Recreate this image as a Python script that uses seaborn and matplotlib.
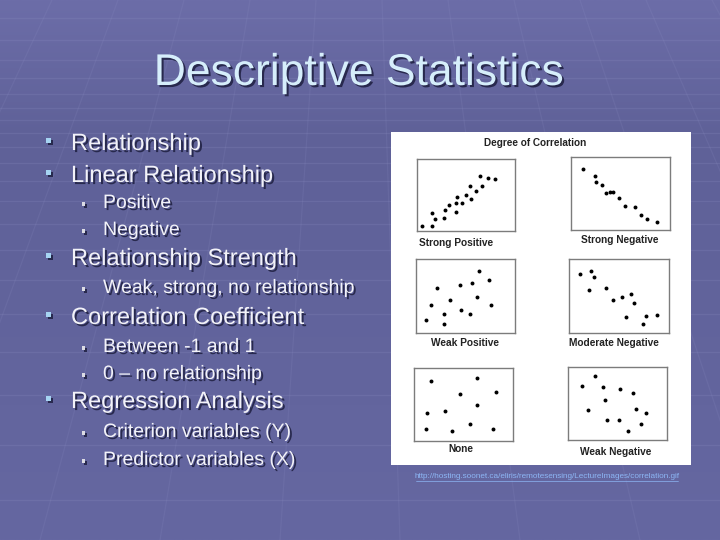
import numpy as np
import matplotlib.pyplot as plt
import matplotlib.patheffects as pe
from matplotlib.patches import Rectangle
import seaborn as sns

# --- slide text ---
title = "Descriptive Statistics"
bullets = [
    (1, "Relationship", 150),
    (1, "Linear Relationship", 182),
    (2, "Positive", 208),
    (2, "Negative", 235),
    (1, "Relationship Strength", 265),
    (2, "Weak, strong, no relationship", 293),
    (1, "Correlation Coefficient", 324),
    (2, "Between -1 and 1", 352),
    (2, "0 \u2013 no relationship", 379),
    (1, "Regression Analysis", 408),
    (2, "Criterion variables (Y)", 437),
    (2, "Predictor variables (X)", 465),
]
source_url = "http://hosting.soonet.ca/eliris/remotesensing/LectureImages/correlation.gif"

# --- scatter panels (0-10 scale) ---
strong_pos_x = [0.47, 1.51, 1.51, 1.81, 2.72, 2.85, 3.29, 3.96, 3.96, 4.06, 4.56, 4.97, 5.37, 5.54, 6.01, 6.38, 6.68, 7.21, 7.92]
strong_pos_y = [0.73, 0.73, 2.52, 1.65, 1.74, 2.89, 3.67, 2.61, 3.85, 4.72, 3.94, 4.95, 6.28, 4.45, 5.55, 7.57, 6.19, 7.43, 7.29]

strong_neg_x = [1.17, 2.38, 2.48, 3.09, 3.49, 3.95, 4.20, 4.83, 5.47, 6.48, 7.05, 7.68, 8.69]
strong_neg_y = [8.39, 7.43, 6.61, 6.10, 5.09, 5.23, 5.23, 4.36, 3.30, 3.21, 2.06, 1.47, 1.06]

weak_pos_x = [0.98, 1.52, 2.13, 2.84, 2.87, 3.41, 4.46, 4.56, 5.41, 5.68, 6.15, 6.39, 7.40, 7.60]
weak_pos_y = [1.73, 3.82, 6.05, 2.59, 1.23, 4.50, 6.55, 3.05, 2.59, 6.77, 4.91, 8.36, 7.18, 3.82]

mod_neg_x = [1.11, 2.15, 2.45, 1.95, 3.66, 4.43, 5.34, 6.24, 6.48, 5.74, 7.68, 7.38, 8.76]
mod_neg_y = [8.00, 8.41, 7.55, 5.77, 6.14, 4.41, 4.82, 5.23, 4.00, 2.18, 2.27, 1.23, 2.45]

none_x = [1.71, 6.38, 4.66, 8.26, 6.38, 1.28, 3.15, 1.24, 3.83, 5.70, 7.99]
none_y = [8.18, 8.64, 6.41, 6.73, 4.95, 3.82, 4.14, 1.59, 1.36, 2.27, 1.68]

weak_neg_x = [2.75, 1.44, 3.49, 5.30, 6.54, 3.72, 2.01, 6.91, 7.92, 3.96, 5.17, 7.35, 6.07]
weak_neg_y = [8.77, 7.41, 7.23, 7.05, 6.41, 5.50, 4.05, 4.27, 3.73, 2.73, 2.73, 2.23, 1.23]

panel_names = ["Strong Positive", "Strong Negative", "Weak Positive",
               "Moderate Negative", "None", "Weak Negative"]
panel_data = [(strong_pos_x, strong_pos_y), (strong_neg_x, strong_neg_y),
              (weak_pos_x, weak_pos_y), (mod_neg_x, mod_neg_y),
              (none_x, none_y), (weak_neg_x, weak_neg_y)]

W, H = 720, 540
sns.set_style("white")
plt.rcParams["font.family"] = ["Liberation Sans", "DejaVu Sans"]

fig = plt.figure(figsize=(7.2, 5.4), dpi=100)
bg = fig.add_axes([0, 0, 1, 1])
bg.set_xlim(0, W)
bg.set_ylim(H, 0)
bg.axis("off")

# background gradient
top = np.array([0x6c, 0x6d, 0xa8]) / 255
mid = np.array([0x5f, 0x61, 0x98]) / 255
bot = np.array([0x65, 0x67, 0xa1]) / 255
t = np.linspace(0, 1, 200)[:, None]
grad = np.where(t < 0.25, top + (mid - top) * (t / 0.25),
                mid + (bot - mid) * ((t - 0.25) / 0.75))
bg.imshow(grad[:, None, :].repeat(2, axis=1), extent=[0, W, H, 0], aspect="auto", zorder=0)

# faint perspective grid
grid_c = "#9294c8"
for yy in [18, 40, 60, 78, 94, 108, 120, 133, 147, 163, 181, 201, 224, 250, 280, 314, 352, 395, 445, 500]:
    bg.plot([0, W], [yy, yy], color=grid_c, lw=1.0, alpha=0.2, zorder=1)
vx = 360
for xb in np.arange(-560, 1300, 120):
    bg.plot([vx + (xb - vx) * 0.55, xb], [0, H], color=grid_c, lw=0.9, alpha=0.15, zorder=1)

shadow = [pe.withSimplePatchShadow(offset=(1.5, -1.5), shadow_rgbFace="#1e1f40", alpha=0.85)]

bg.text(359, 85, title, fontsize=32, color="#d6eefb", ha="center", va="baseline",
        path_effects=shadow, zorder=5)

for level, txt, base in bullets:
    if level == 1:
        bg.add_patch(Rectangle((45.5, base - 12.5), 5.5, 5.2, facecolor="#a6d4f2", edgecolor="none",
                               zorder=5, path_effects=shadow))
        bg.text(71, base, txt, fontsize=17, color="#f2f2f8", va="baseline",
                path_effects=shadow, zorder=5)
    else:
        bg.add_patch(Rectangle((81.5, base - 6.2), 3.8, 3.8, facecolor="#dcdce4", edgecolor="none",
                               zorder=5, path_effects=shadow))
        bg.text(103, base, txt, fontsize=14, color="#f2f2f8", va="baseline",
                path_effects=shadow, zorder=5)

# white picture panel
bg.add_patch(Rectangle((391, 132), 300, 333, facecolor="white", edgecolor="none", zorder=3))
bg.text(535, 143, "Degree of Correlation", fontsize=7.2, fontweight="bold", color="#222222",
        ha="center", va="center", zorder=4)

# url under the picture
bg.text(547, 477, source_url, fontsize=5.9, color="#8db6f5", ha="center", va="center", zorder=4)
bg.plot([416, 678], [480.5, 480.5], color="#8db6f5", lw=0.5, zorder=4)

# panel boxes (left, top, right, bottom in px) and label positions
boxes = [(417, 159, 515, 231), (571, 157, 670, 230),
         (416, 259, 515, 333), (569, 259, 669, 333),
         (414, 368, 513, 441), (568, 367, 667, 440)]
label_pos = [(419, 243, "left"), (620, 240, "center"),
             (465, 343, "center"), (614, 343, "center"),
             (461, 449, "center"), (616, 452, "center")]

for (xs, ys), (l, tp, r, b), (lx, ly, ha), name in zip(panel_data, boxes, label_pos, panel_names):
    ax = fig.add_axes([l / W, 1 - b / H, (r - l) / W, (b - tp) / H])
    sns.scatterplot(x=xs, y=ys, ax=ax, color="black", s=8, linewidth=0, zorder=3)
    ax.set_xlim(0, 10)
    ax.set_ylim(0, 10)
    ax.set_xticks([])
    ax.set_yticks([])
    ax.set_facecolor("white")
    for sp in ax.spines.values():
        sp.set_color("#7c7c7c")
        sp.set_linewidth(1.0)
    bg.text(lx, ly, name, fontsize=7.3, fontweight="bold", color="#222222",
            ha=ha, va="center", zorder=4)

fig.savefig("out.png", dpi=100)
